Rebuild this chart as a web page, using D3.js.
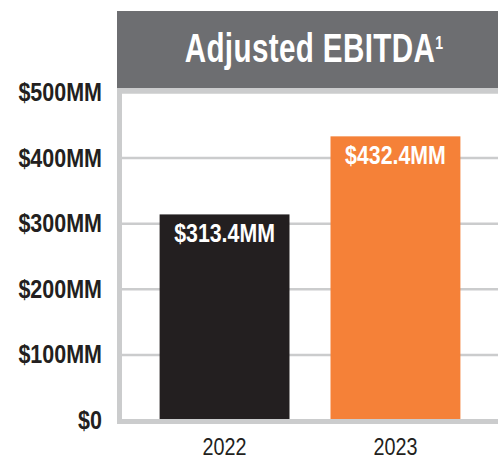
<!DOCTYPE html>
<html>
<head>
<meta charset="utf-8">
<script src="https://cdn.jsdelivr.net/npm/d3@7"></script>
<style>
body { margin: 0; background: #fff; }
text { font-family: "Liberation Sans", Arial, sans-serif; }
</style>
</head>
<body>
<svg id="chart" width="498" height="461"></svg>
<script>
var years = ["2022", "2023"];
var ebitda = [313.4, 432.4];
var barLabels = ["$313.4MM", "$432.4MM"];
var yTicks = [0, 100, 200, 300, 400, 500];
var yTickLabels = ["$0", "$100MM", "$200MM", "$300MM", "$400MM", "$500MM"];
var barColors = ["#231f20", "#f58138"];

// squeeze text sideways, the source uses a condensed face
function squeeze(sx) {
    return function(sel) {
        sel.attr("transform", function() {
            var t = d3.select(this);
            var px = +t.attr("x"), py = +t.attr("y");
            t.attr("x", 0).attr("y", 0);
            return "translate(" + px + "," + py + ") scale(" + sx + ",1)";
        });
    };
}

function draw() {
    var svg = d3.select("#chart"),
    width = +svg.attr("width"),
    height = +svg.attr("height");

    var left = 122, right = width, top = 92, bottom = 420;

    var x = d3.scaleBand()
        .domain(years)
        .range([122, 498])
        .paddingInner(0.24)
        .paddingOuter(0.22);

    var y = d3.scaleLinear()
        .domain([0, 500])
        .range([bottom, top]);

    // title bar
    svg.append("rect")
        .attr("x", 117).attr("y", 11)
        .attr("width", width - 117).attr("height", 77)
        .attr("fill", "#6d6e71");

    var title = svg.append("text")
        .attr("x", 314).attr("y", 62)
        .attr("text-anchor", "middle")
        .attr("fill", "#fff")
        .attr("font-size", 40)
        .attr("font-weight", "bold")
        .attr("letter-spacing", 0.5)
        .text("Adjusted EBITDA");
    title.append("tspan")
        .attr("font-size", 19)
        .attr("dy", -13)
        .text("1");
    title.call(squeeze(0.74));

    // gridlines
    svg.append("g")
        .attr("transform", "translate(" + left + ",0)")
        .call(d3.axisLeft(y).tickValues(yTicks).tickSize(-(right - left)).tickFormat(""))
        .call(function(g) {
            g.select(".domain").remove();
            g.selectAll(".tick line").attr("stroke", "#cbcccd").attr("stroke-width", 2.5);
        });

    // bars
    svg.selectAll("rect.bar")
        .data(ebitda)
        .enter()
        .append("rect")
        .attr("class", "bar")
        .attr("x", function(d, i) { return x(years[i]); })
        .attr("y", function(d) { return y(d); })
        .attr("width", x.bandwidth())
        .attr("height", function(d) { return y(0) - y(d); })
        .attr("fill", function(d, i) { return barColors[i]; });

    svg.selectAll("text.barlabel")
        .data(ebitda)
        .enter()
        .append("text")
        .attr("class", "barlabel")
        .attr("x", function(d, i) { return x(years[i]) + x.bandwidth() / 2; })
        .attr("y", function(d) { return y(d) + 28; })
        .attr("text-anchor", "middle")
        .attr("fill", "#fff")
        .attr("font-size", 26)
        .attr("font-weight", "bold")
        .text(function(d, i) { return barLabels[i]; })
        .call(squeeze(0.82));

    // frame: top, left, bottom
    svg.append("rect").attr("x", 117).attr("y", 88).attr("width", width - 117).attr("height", 4).attr("fill", "#cbcccd");
    svg.append("rect").attr("x", 117).attr("y", 88).attr("width", 5).attr("height", 336).attr("fill", "#cbcccd");
    svg.append("rect").attr("x", 117).attr("y", 419).attr("width", width - 117).attr("height", 5).attr("fill", "#cbcccd");

    // y labels
    svg.selectAll("text.ylab")
        .data(yTicks)
        .enter()
        .append("text")
        .attr("class", "ylab")
        .attr("x", 102)
        .attr("y", function(d) { return y(d) + 9; })
        .attr("text-anchor", "end")
        .attr("fill", "#231f20")
        .attr("font-size", 25)
        .attr("font-weight", "bold")
        .text(function(d, i) { return yTickLabels[i]; })
        .call(squeeze(0.86));

    // x labels
    svg.selectAll("text.xlab")
        .data(years)
        .enter()
        .append("text")
        .attr("class", "xlab")
        .attr("x", function(d) { return x(d) + x.bandwidth() / 2; })
        .attr("y", 455)
        .attr("text-anchor", "middle")
        .attr("fill", "#231f20")
        .attr("font-size", 23)
        .text(function(d) { return d; })
        .call(squeeze(0.86));
}

window.onload = function() {
    draw();
};
</script>
</body>
</html>
